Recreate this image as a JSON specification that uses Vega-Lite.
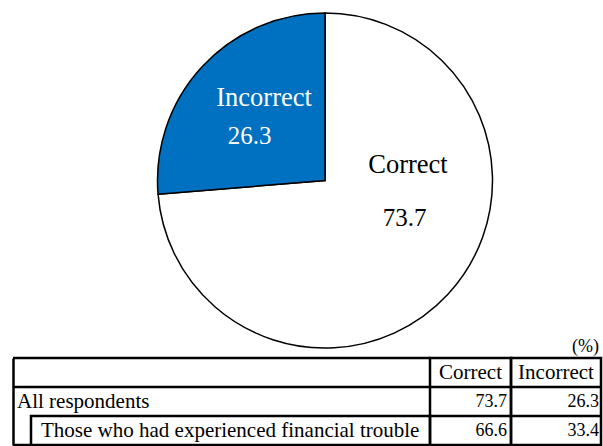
{
  "$schema": "https://vega.github.io/schema/vega-lite/v6.json",
  "padding": {"left": 11, "top": 10, "right": 2, "bottom": 0},
  "config": {"view": {"stroke": null}, "concat": {"spacing": 0}},
  "datasets": {
    "results": [
      {"group": "All respondents", "answer": "Correct", "value": 73.7},
      {"group": "All respondents", "answer": "Incorrect", "value": 26.3},
      {"group": "Those who had experienced financial trouble", "answer": "Correct", "value": 66.6},
      {"group": "Those who had experienced financial trouble", "answer": "Incorrect", "value": 33.4}
    ],
    "rows": [
      {"row": "header"},
      {"row": "All respondents"},
      {"row": "Those who had experienced financial trouble"}
    ]
  },
  "vconcat": [
    {
      "width": 588,
      "height": 335,
      "data": {"name": "results"},
      "layer": [
        {
          "transform": [{"filter": "datum.group === 'All respondents'"}],
          "mark": {"type": "arc", "stroke": "black", "strokeWidth": 1.5, "xOffset": 18},
          "encoding": {
            "theta": {"field": "value", "type": "quantitative", "stack": true},
            "order": {"field": "answer", "type": "nominal", "sort": "ascending"},
            "color": {"field": "answer", "type": "nominal", "scale": {"domain": ["Correct", "Incorrect"], "range": ["#ffffff", "#0070C0"]}, "legend": null}
          }
        },
        {
          "transform": [{"filter": "datum.group === 'All respondents'"}],
          "mark": {"type": "text", "radius": 84.4, "thetaOffset": -0.929, "xOffset": 18, "font": "Liberation Serif", "fontSize": 26.5, "color": "black", "align": "center", "baseline": "middle"},
          "encoding": {
            "theta": {"field": "value", "type": "quantitative", "stack": true},
            "order": {"field": "answer", "type": "nominal", "sort": "ascending"},
            "detail": {"field": "answer", "type": "nominal"},
            "text": {"condition": {"test": "datum.answer === 'Correct'", "field": "answer", "type": "nominal"}, "value": ""}
          }
        },
        {
          "transform": [{"filter": "datum.group === 'All respondents'"}],
          "mark": {"type": "text", "radius": 87.9, "thetaOffset": -0.304, "xOffset": 18, "font": "Liberation Serif", "fontSize": 25, "color": "black", "align": "center", "baseline": "middle"},
          "encoding": {
            "theta": {"field": "value", "type": "quantitative", "stack": true},
            "order": {"field": "answer", "type": "nominal", "sort": "ascending"},
            "detail": {"field": "answer", "type": "nominal"},
            "text": {"condition": {"test": "datum.answer === 'Correct'", "field": "value", "type": "quantitative", "format": ".1f"}, "value": ""}
          }
        },
        {
          "transform": [{"filter": "datum.group === 'All respondents'"}],
          "mark": {"type": "text", "radius": 102.2, "thetaOffset": 0.187, "xOffset": 18, "font": "Liberation Serif", "fontSize": 26.5, "color": "white", "align": "center", "baseline": "middle"},
          "encoding": {
            "theta": {"field": "value", "type": "quantitative", "stack": true},
            "order": {"field": "answer", "type": "nominal", "sort": "ascending"},
            "detail": {"field": "answer", "type": "nominal"},
            "text": {"condition": {"test": "datum.answer === 'Incorrect'", "field": "answer", "type": "nominal"}, "value": ""}
          }
        },
        {
          "transform": [{"filter": "datum.group === 'All respondents'"}],
          "mark": {"type": "text", "radius": 87.6, "thetaOffset": -0.212, "xOffset": 18, "font": "Liberation Serif", "fontSize": 25, "color": "white", "align": "center", "baseline": "middle"},
          "encoding": {
            "theta": {"field": "value", "type": "quantitative", "stack": true},
            "order": {"field": "answer", "type": "nominal", "sort": "ascending"},
            "detail": {"field": "answer", "type": "nominal"},
            "text": {"condition": {"test": "datum.answer === 'Incorrect'", "field": "value", "type": "quantitative", "format": ".1f"}, "value": ""}
          }
        },
        {
          "data": {"values": [{"unit": "(%)"}]},
          "mark": {"type": "text", "align": "right", "baseline": "alphabetic", "dx": -2, "dy": 4, "font": "Liberation Serif", "fontSize": 18, "color": "black"},
          "encoding": {
            "x": {"value": "width"},
            "y": {"value": "height"},
            "text": {"field": "unit", "type": "nominal"}
          }
        }
      ]
    },
    {
      "spacing": 0,
      "bounds": "flush",
      "hconcat": [
        {
          "width": 18,
          "height": 87,
          "layer": [
            {
              "data": {"name": "rows"},
              "transform": [{"filter": "datum.row !== 'Those who had experienced financial trouble'"}],
              "mark": {"type": "rule", "color": "black", "strokeWidth": 2.5},
              "encoding": {"y": {"field": "row", "type": "nominal", "bandPosition": 0, "scale": {"type": "band", "domain": ["header", "All respondents", "Those who had experienced financial trouble"], "paddingInner": 0, "paddingOuter": 0}, "axis": {"title": null, "labels": false, "ticks": false, "grid": false, "domain": true, "domainColor": "black", "domainWidth": 2.5}}}
            },
            {
              "data": {"name": "rows"},
              "transform": [{"filter": "datum.row === 'Those who had experienced financial trouble'"}],
              "mark": {"type": "rule", "color": "black", "strokeWidth": 2.5},
              "encoding": {"y": {"field": "row", "type": "nominal", "bandPosition": 1, "scale": {"type": "band", "domain": ["header", "All respondents", "Those who had experienced financial trouble"], "paddingInner": 0, "paddingOuter": 0}, "axis": {"title": null, "labels": false, "ticks": false, "grid": false, "domain": true, "domainColor": "black", "domainWidth": 2.5}}}
            },
            {
              "data": {"name": "results"},
              "transform": [{"filter": "datum.group === 'All respondents' && datum.answer === 'Correct'"}],
              "mark": {"type": "text", "align": "left", "baseline": "middle", "dx": 4, "font": "Liberation Serif", "fontSize": 21, "color": "black"},
              "encoding": {
                "y": {"field": "group", "type": "nominal", "scale": {"type": "band", "domain": ["header", "All respondents", "Those who had experienced financial trouble"], "paddingInner": 0, "paddingOuter": 0}, "axis": {"title": null, "labels": false, "ticks": false, "grid": false, "domain": true, "domainColor": "black", "domainWidth": 2.5}},
                "x": {"value": 0},
                "text": {"field": "group", "type": "nominal"}
              }
            }
          ]
        },
        {
          "width": 399,
          "height": 87,
          "layer": [
            {
              "data": {"name": "rows"},
              "transform": [{"filter": "datum.row !== 'Those who had experienced financial trouble'"}],
              "mark": {"type": "rule", "color": "black", "strokeWidth": 2.5},
              "encoding": {"y": {"field": "row", "type": "nominal", "bandPosition": 0, "scale": {"type": "band", "domain": ["header", "All respondents", "Those who had experienced financial trouble"], "paddingInner": 0, "paddingOuter": 0}, "axis": null}}
            },
            {
              "data": {"name": "rows"},
              "transform": [{"filter": "datum.row === 'Those who had experienced financial trouble'"}],
              "mark": {"type": "rect", "filled": false, "color": "black", "strokeWidth": 2.5},
              "encoding": {"y": {"field": "row", "type": "nominal", "scale": {"type": "band", "domain": ["header", "All respondents", "Those who had experienced financial trouble"], "paddingInner": 0, "paddingOuter": 0}, "axis": null}}
            },
            {
              "data": {"name": "results"},
              "transform": [{"filter": "datum.group === 'Those who had experienced financial trouble' && datum.answer === 'Correct'"}],
              "mark": {"type": "text", "align": "left", "baseline": "middle", "dx": 10, "font": "Liberation Serif", "fontSize": 21, "color": "black"},
              "encoding": {
                "y": {"field": "group", "type": "nominal", "scale": {"type": "band", "domain": ["header", "All respondents", "Those who had experienced financial trouble"], "paddingInner": 0, "paddingOuter": 0}, "axis": null},
                "x": {"value": 0},
                "text": {"field": "group", "type": "nominal"}
              }
            }
          ]
        },
        {
          "width": 81,
          "height": 87,
          "view": {"stroke": "black", "strokeWidth": 2.5},
          "layer": [
            {
              "data": {"name": "rows"},
              "transform": [{"filter": "datum.row !== 'header'"}],
              "mark": {"type": "rule", "color": "black", "strokeWidth": 2.5},
              "encoding": {"y": {"field": "row", "type": "nominal", "bandPosition": 0, "scale": {"type": "band", "domain": ["header", "All respondents", "Those who had experienced financial trouble"], "paddingInner": 0, "paddingOuter": 0}, "axis": null}}
            },
            {
              "data": {"name": "results"},
              "transform": [{"filter": "datum.group === 'All respondents' && datum.answer === 'Correct'"}],
              "mark": {"type": "text", "align": "center", "baseline": "middle", "font": "Liberation Serif", "fontSize": 21, "color": "black"},
              "encoding": {
                "y": {"datum": "header", "type": "nominal", "scale": {"type": "band", "domain": ["header", "All respondents", "Those who had experienced financial trouble"], "paddingInner": 0, "paddingOuter": 0}, "axis": null},
                "text": {"field": "answer", "type": "nominal"}
              }
            },
            {
              "data": {"name": "results"},
              "transform": [{"filter": "datum.answer === 'Correct'"}],
              "mark": {"type": "text", "align": "right", "baseline": "middle", "dx": -4, "font": "Liberation Serif", "fontSize": 18, "color": "black"},
              "encoding": {
                "y": {"field": "group", "type": "nominal", "scale": {"type": "band", "domain": ["header", "All respondents", "Those who had experienced financial trouble"], "paddingInner": 0, "paddingOuter": 0}, "axis": null},
                "x": {"value": "width"},
                "text": {"field": "value", "type": "quantitative", "format": ".1f"}
              }
            }
          ]
        },
        {
          "width": 90,
          "height": 87,
          "view": {"stroke": "black", "strokeWidth": 2.5},
          "layer": [
            {
              "data": {"name": "rows"},
              "transform": [{"filter": "datum.row !== 'header'"}],
              "mark": {"type": "rule", "color": "black", "strokeWidth": 2.5},
              "encoding": {"y": {"field": "row", "type": "nominal", "bandPosition": 0, "scale": {"type": "band", "domain": ["header", "All respondents", "Those who had experienced financial trouble"], "paddingInner": 0, "paddingOuter": 0}, "axis": null}}
            },
            {
              "data": {"name": "results"},
              "transform": [{"filter": "datum.group === 'All respondents' && datum.answer === 'Incorrect'"}],
              "mark": {"type": "text", "align": "center", "baseline": "middle", "font": "Liberation Serif", "fontSize": 21, "color": "black"},
              "encoding": {
                "y": {"datum": "header", "type": "nominal", "scale": {"type": "band", "domain": ["header", "All respondents", "Those who had experienced financial trouble"], "paddingInner": 0, "paddingOuter": 0}, "axis": null},
                "text": {"field": "answer", "type": "nominal"}
              }
            },
            {
              "data": {"name": "results"},
              "transform": [{"filter": "datum.answer === 'Incorrect'"}],
              "mark": {"type": "text", "align": "right", "baseline": "middle", "dx": -2, "font": "Liberation Serif", "fontSize": 18, "color": "black"},
              "encoding": {
                "y": {"field": "group", "type": "nominal", "scale": {"type": "band", "domain": ["header", "All respondents", "Those who had experienced financial trouble"], "paddingInner": 0, "paddingOuter": 0}, "axis": null},
                "x": {"value": "width"},
                "text": {"field": "value", "type": "quantitative", "format": ".1f"}
              }
            }
          ]
        }
      ]
    }
  ],
  "spacing": 0
}
